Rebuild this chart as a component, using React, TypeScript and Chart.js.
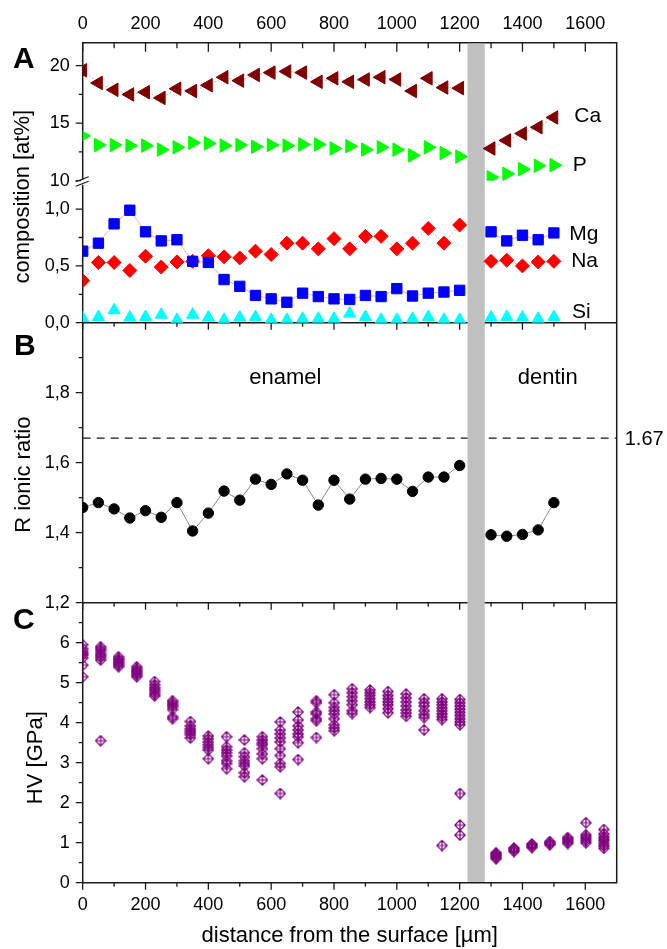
import React, { useEffect, useRef } from 'react';
import { Chart, registerables } from 'chart.js';

Chart.register(...registerables);

// ---------- data ----------
const enamelX = [0, 50, 100, 150, 200, 250, 300, 350, 400, 450, 500, 550, 600, 650, 700, 750, 800, 850, 900, 950, 1000, 1050, 1100, 1150, 1200];
const dentinX = [1300, 1350, 1400, 1450, 1500];

const caEnamel = [19.6, 18.5, 17.9, 17.5, 17.7, 17.2, 18.0, 17.8, 18.3, 19.0, 18.7, 19.2, 19.4, 19.5, 19.4, 18.6, 18.9, 18.6, 18.8, 19.0, 18.8, 17.8, 18.9, 18.1, 18.05];
const caDentin = [12.8, 13.5, 14.1, 14.65, 15.5];
const pEnamel = [13.9, 13.1, 13.1, 13.05, 13.05, 12.7, 12.9, 13.3, 13.25, 13.05, 13.1, 12.95, 13.1, 13.05, 13.15, 13.15, 12.8, 13.0, 12.7, 12.9, 12.7, 12.2, 12.9, 12.4, 12.1];
const pDentin = [10.3, 10.6, 11.0, 11.3, 11.35];
const mgEnamel = [0.63, 0.70, 0.87, 0.99, 0.80, 0.72, 0.73, 0.54, 0.53, 0.38, 0.32, 0.24, 0.21, 0.18, 0.26, 0.23, 0.21, 0.205, 0.24, 0.23, 0.30, 0.235, 0.26, 0.27, 0.285];
const mgDentin = [0.80, 0.72, 0.77, 0.73, 0.79];
const naEnamel = [0.37, 0.53, 0.53, 0.46, 0.585, 0.49, 0.535, 0.54, 0.59, 0.58, 0.57, 0.63, 0.60, 0.70, 0.70, 0.65, 0.74, 0.65, 0.76, 0.76, 0.65, 0.70, 0.83, 0.70, 0.86];
const naDentin = [0.54, 0.55, 0.50, 0.535, 0.54];
const siEnamel = [0.04, 0.05, 0.11, 0.045, 0.05, 0.07, 0.025, 0.07, 0.045, 0.025, 0.045, 0.05, 0.025, 0.025, 0.035, 0.035, 0.035, 0.08, 0.05, 0.025, 0.025, 0.035, 0.05, 0.025, 0.025];
const siDentin = [0.045, 0.05, 0.045, 0.035, 0.05];

const rEnamel = [1.472, 1.486, 1.468, 1.442, 1.463, 1.444, 1.486, 1.405, 1.456, 1.519, 1.493, 1.553, 1.538, 1.568, 1.55, 1.479, 1.55, 1.496, 1.553, 1.555, 1.553, 1.518, 1.559, 1.559, 1.592];
const rDentin = [1.394, 1.39, 1.395, 1.408, 1.486];
const stoichiometricR = 1.67;

const hvX = [0, 57, 114, 172, 229, 286, 343, 400, 458, 515, 572, 629, 686, 744, 801, 858, 915, 972, 1030, 1087, 1144, 1201, 1316, 1373, 1430, 1487, 1544, 1602, 1659];
const hvValues = [
  [5.95, 5.85, 5.78, 5.73, 5.69, 5.62, 5.44, 5.15],
  [5.9, 5.85, 5.8, 5.73, 5.68, 5.63, 5.57, 3.55],
  [5.65, 5.6, 5.57, 5.52, 5.48, 5.44, 5.4],
  [5.4, 5.35, 5.31, 5.27, 5.23, 5.19, 5.15],
  [5.03, 4.95, 4.88, 4.83, 4.78, 4.72, 4.67],
  [4.55, 4.5, 4.45, 4.4, 4.33, 4.15, 4.1],
  [4.03, 3.92, 3.85, 3.8, 3.75, 3.7, 3.62],
  [3.67, 3.6, 3.52, 3.45, 3.38, 3.32, 3.1],
  [3.65, 3.4, 3.32, 3.25, 3.17, 3.05, 2.98, 2.85],
  [3.57, 3.25, 3.15, 3.05, 2.98, 2.92, 2.75, 2.65],
  [3.65, 3.57, 3.5, 3.45, 3.35, 3.22, 3.1, 2.57],
  [4.02, 3.82, 3.72, 3.62, 3.52, 3.35, 3.18, 2.98, 2.9, 2.23],
  [4.27, 4.07, 3.92, 3.82, 3.72, 3.65, 3.5, 3.08],
  [4.55, 4.5, 4.27, 4.22, 4.1, 4.05, 3.63],
  [4.7, 4.5, 4.38, 4.3, 4.22, 4.1, 3.95, 3.87, 3.8],
  [4.85, 4.75, 4.65, 4.55, 4.45, 4.3, 4.23],
  [4.82, 4.75, 4.68, 4.6, 4.52, 4.45, 4.38],
  [4.78, 4.68, 4.6, 4.52, 4.45, 4.35, 4.25],
  [4.72, 4.62, 4.52, 4.42, 4.32, 4.24, 4.16],
  [4.6, 4.5, 4.42, 4.3, 4.2, 4.13, 3.82],
  [4.6, 4.52, 4.45, 4.37, 4.3, 4.22, 4.15, 4.08, 0.93],
  [4.58, 4.5, 4.42, 4.34, 4.26, 4.18, 4.1, 4.02, 3.95, 2.23, 1.44, 1.19],
  [0.75, 0.72, 0.69, 0.66, 0.63, 0.6],
  [0.87, 0.84, 0.81, 0.78],
  [0.97, 0.94, 0.91, 0.88],
  [1.03, 1.0, 0.98, 0.95],
  [1.13, 1.1, 1.06, 1.02, 0.98],
  [1.5, 1.2, 1.15, 1.1, 1.05, 1.0],
  [1.33, 1.22, 1.15, 1.1, 1.05, 0.98, 0.92, 0.86],
];

// boundary (gray band) between enamel and dentin, in µm
const bandStart = 1225;
const bandEnd = 1280;

// ticks
const xMajorTicks = [0, 200, 400, 600, 800, 1000, 1200, 1400, 1600];
const xMinorTicks = [100, 300, 500, 700, 900, 1100, 1300, 1500];
const aHighMajor = [10, 15, 20];
const aHighMinor = [12.5, 17.5];
const aLowMajor = [0, 0.5, 1.0];
const aLowMinor = [0.25, 0.75];
const bMajor = [1.2, 1.4, 1.6, 1.8];
const bMinor = [1.3, 1.5, 1.7, 1.9];
const cMajor = [0, 1, 2, 3, 4, 5, 6];
const cMinor = [0.5, 1.5, 2.5, 3.5, 4.5, 5.5, 6.5];

const FONT = '"Liberation Sans", Arial, Helvetica, sans-serif';

const pts = (xs: number[], ys: number[]) => xs.map((x, i) => ({ x, y: ys[i] }));

function makeHvMarker(): HTMLCanvasElement {
  const c = document.createElement('canvas');
  c.width = 12;
  c.height = 12;
  const g = c.getContext('2d') as CanvasRenderingContext2D;
  g.strokeStyle = '#800080';
  g.lineWidth = 1.2;
  g.beginPath();
  g.moveTo(6, 0.8);
  g.lineTo(11.2, 6);
  g.lineTo(6, 11.2);
  g.lineTo(0.8, 6);
  g.closePath();
  g.moveTo(6, 1.5);
  g.lineTo(6, 10.5);
  g.moveTo(1.5, 6);
  g.lineTo(10.5, 6);
  g.stroke();
  return c;
}

const framePlugin = {
  id: 'framePlugin',
  beforeDatasetsDraw(chart: any) {
    const { ctx, chartArea: ca, scales } = chart;
    const x = scales.x;
    const yAh = scales.yAhigh, yAl = scales.yAlow, yB = scales.yB, yC = scales.yC;
    ctx.save();
    ctx.strokeStyle = '#1a1a1a';
    ctx.lineCap = 'butt';

    // dashed reference line
    ctx.lineWidth = 1.3;
    ctx.setLineDash([8, 6]);
    const yd = yB.getPixelForValue(stoichiometricR);
    ctx.beginPath();
    ctx.moveTo(ca.left, yd);
    ctx.lineTo(ca.right, yd);
    ctx.stroke();
    ctx.setLineDash([]);

    // frame
    ctx.lineWidth = 1.5;
    ctx.beginPath();
    [ca.top, yAl.bottom, yB.bottom, ca.bottom].forEach((y: number) => {
      ctx.moveTo(ca.left - 0.75, y);
      ctx.lineTo(ca.right + 0.75, y);
    });
    ctx.moveTo(ca.left, ca.top);
    ctx.lineTo(ca.left, ca.bottom);
    ctx.moveTo(ca.right, ca.top);
    ctx.lineTo(ca.right, ca.bottom);
    ctx.stroke();

    // x tick marks (pointing down)
    ctx.lineWidth = 1.3;
    ctx.beginPath();
    const rows: [number, number, number][] = [
      [ca.top, 9, 5.5],
      [yAl.bottom, 7, 4],
      [yB.bottom, 7, 4],
      [ca.bottom, 7, 4],
    ];
    rows.forEach(([y, maj, min]) => {
      xMajorTicks.forEach((v) => {
        const px = x.getPixelForValue(v);
        ctx.moveTo(px, y);
        ctx.lineTo(px, y + maj);
      });
      xMinorTicks.forEach((v) => {
        const px = x.getPixelForValue(v);
        ctx.moveTo(px, y);
        ctx.lineTo(px, y + min);
      });
    });
    // y tick marks (pointing left)
    const yRows: [any, number[], number[]][] = [
      [yAh, aHighMajor, aHighMinor],
      [yAl, aLowMajor, aLowMinor],
      [yB, bMajor, bMinor],
      [yC, cMajor, cMinor],
    ];
    yRows.forEach(([s, maj, min]) => {
      maj.forEach((v) => {
        const py = s.getPixelForValue(v);
        ctx.moveTo(ca.left, py);
        ctx.lineTo(ca.left - 7, py);
      });
      min.forEach((v) => {
        const py = s.getPixelForValue(v);
        ctx.moveTo(ca.left, py);
        ctx.lineTo(ca.left - 4, py);
      });
    });
    ctx.stroke();

    // axis break on the composition axis
    const yb = yAh.bottom;
    ctx.fillStyle = '#ffffff';
    ctx.fillRect(ca.left - 1.5, yb - 1, 3, 5);
    ctx.lineWidth = 1.2;
    ctx.beginPath();
    ctx.moveTo(ca.left - 7, yb + 1);
    ctx.lineTo(ca.left + 6, yb - 4);
    ctx.moveTo(ca.left - 7, yb + 5.5);
    ctx.lineTo(ca.left + 6, yb + 0.5);
    ctx.stroke();

    // gray band
    ctx.fillStyle = '#c0c0c0';
    const bx0 = x.getPixelForValue(bandStart);
    const bx1 = x.getPixelForValue(bandEnd);
    ctx.fillRect(bx0, ca.top + 1, bx1 - bx0, ca.bottom - ca.top - 1.8);
    ctx.restore();
  },
  afterDraw(chart: any) {
    const { ctx, chartArea: ca, scales } = chart;
    const x = scales.x;
    const yAh = scales.yAhigh, yAl = scales.yAlow, yB = scales.yB, yC = scales.yC;
    ctx.save();
    ctx.fillStyle = '#000';
    ctx.textAlign = 'left';
    ctx.textBaseline = 'alphabetic';

    ctx.font = `bold 30px ${FONT}`;
    ctx.fillText('A', 13, ca.top + 25.5);
    ctx.fillText('B', 14, yB.top + 32.5);
    ctx.fillText('C', 13, yC.top + 26);

    ctx.font = `21px ${FONT}`;
    const seriesLabels: [string, number, number, any][] = [
      ['Ca', 1565, 15.14, yAh],
      ['P', 1560, 10.88, yAh],
      ['Mg', 1549, 0.73, yAl],
      ['Na', 1555, 0.49, yAl],
      ['Si', 1558, 0.039, yAl],
    ];
    seriesLabels.forEach(([t, xv, yv, s]) => ctx.fillText(t, x.getPixelForValue(xv), s.getPixelForValue(yv)));

    ctx.font = `22px ${FONT}`;
    ctx.fillText('enamel', x.getPixelForValue(530), yB.getPixelForValue(1.825));
    ctx.fillText('dentin', x.getPixelForValue(1385), yB.getPixelForValue(1.825));

    ctx.font = `20px ${FONT}`;
    ctx.textBaseline = 'middle';
    ctx.fillText('1.67', ca.right + 8, yB.getPixelForValue(stoichiometricR) + 1);

    const vt = (text: string, bx: number, cy: number) => {
      ctx.save();
      ctx.translate(bx, cy);
      ctx.rotate(-Math.PI / 2);
      ctx.textAlign = 'center';
      ctx.textBaseline = 'alphabetic';
      ctx.fillText(text, 0, 0);
      ctx.restore();
    };
    ctx.font = `22px ${FONT}`;
    vt('composition [at%]', 29, (yAh.top + yAl.bottom) / 2 + 14);
    vt('R ionic ratio', 30, (yB.top + yB.bottom) / 2 + 12);
    vt('HV [GPa]', 42, (yC.top + yC.bottom) / 2 + 15);
    ctx.restore();
  },
};

export default function App() {
  const canvasRef = useRef<HTMLCanvasElement | null>(null);

  useEffect(() => {
    if (!canvasRef.current) return;
    Chart.defaults.font.family = FONT;
    Chart.defaults.color = '#000';
    const hvMarker = makeHvMarker();

    const hvPoints: { x: number; y: number }[] = [];
    hvX.forEach((xv, i) => hvValues[i].forEach((yv) => hvPoints.push({ x: xv, y: yv })));

    const LEFT = 82.7;
    const yBase = (id: string, weight: number, min: number, max: number, major: number[], fmt: (v: number) => string) => ({
      type: 'linear',
      position: 'left',
      stack: 'panels',
      stackWeight: weight,
      min,
      max,
      grid: { display: false, drawTicks: false },
      border: { display: false },
      ticks: { padding: 13, autoSkip: false, font: { size: 18 }, color: '#000', callback: (v: any) => fmt(Number(v)) },
      afterBuildTicks: (s: any) => {
        s.ticks = major.map((v) => ({ value: v }));
      },
      afterFit: (s: any) => {
        s.width = LEFT;
      },
    });
    const comma1 = (v: number) => v.toFixed(1).replace('.', ',');
    const int0 = (v: number) => String(Math.round(v));

    const line = (data: any[], yAxisID: string, o: any) => ({
      data,
      yAxisID,
      xAxisID: 'x',
      clip: 0,
      pointBorderWidth: 1,
      ...o,
    });

    const ca = { pointStyle: 'triangle', rotation: -90, pointRadius: 7.8, pointBackgroundColor: '#800000', pointBorderColor: '#800000', showLine: true, borderColor: 'rgba(130,130,130,0.7)', borderWidth: 0.8, borderDash: [2, 2] };
    const p = { pointStyle: 'triangle', rotation: 90, pointRadius: 7.8, pointBackgroundColor: '#00ff00', pointBorderColor: '#00ff00', showLine: false };
    const mg = { pointStyle: 'rect', pointRadius: 7.3, pointBackgroundColor: '#0000ff', pointBorderColor: '#0000ff', showLine: true, borderColor: 'rgba(255,120,120,0.8)', borderWidth: 0.8 };
    const na = { pointStyle: 'rectRot', pointRadius: 7, pointBackgroundColor: '#ff0000', pointBorderColor: '#ff0000', showLine: true, borderColor: 'rgba(130,130,130,0.7)', borderWidth: 0.8, borderDash: [2, 2] };
    const si = { pointStyle: 'triangle', pointRadius: 7, pointBackgroundColor: '#00ffff', pointBorderColor: '#00ffff', showLine: false };
    const r = { pointStyle: 'circle', pointRadius: 5.2, pointBackgroundColor: '#000', pointBorderColor: '#000', showLine: true, borderColor: '#8a8a8a', borderWidth: 1 };

    const chart = new Chart(canvasRef.current, {
      type: 'scatter',
      data: {
        datasets: [
          line(pts(enamelX, caEnamel), 'yAhigh', { label: 'Ca', ...ca }),
          line(pts(dentinX, caDentin), 'yAhigh', { label: 'Ca dentin', ...ca }),
          line(pts(enamelX, pEnamel), 'yAhigh', { label: 'P', ...p }),
          line(pts(dentinX, pDentin), 'yAhigh', { label: 'P dentin', ...p }),
          line(pts(enamelX, mgEnamel), 'yAlow', { label: 'Mg', ...mg }),
          line(pts(dentinX, mgDentin), 'yAlow', { label: 'Mg dentin', ...mg }),
          line(pts(enamelX, naEnamel), 'yAlow', { label: 'Na', ...na }),
          line(pts(dentinX, naDentin), 'yAlow', { label: 'Na dentin', ...na }),
          line(pts(enamelX, siEnamel), 'yAlow', { label: 'Si', ...si }),
          line(pts(dentinX, siDentin), 'yAlow', { label: 'Si dentin', ...si }),
          line(pts(enamelX, rEnamel), 'yB', { label: 'R', ...r }),
          line(pts(dentinX, rDentin), 'yB', { label: 'R dentin', ...r }),
          line(hvPoints, 'yC', { label: 'HV', pointStyle: hvMarker, pointRadius: 6, showLine: false }),
        ] as any,
      },
      options: {
        responsive: false,
        animation: false,
        events: [],
        layout: { padding: { left: 0, right: 50.3, top: 0, bottom: 0 } },
        plugins: { legend: { display: false }, title: { display: false }, tooltip: { enabled: false } },
        scales: {
          x: {
            type: 'linear',
            position: 'bottom',
            min: 0,
            max: 1700,
            grid: { display: false, drawTicks: false },
            border: { display: false },
            ticks: { padding: 11.5, autoSkip: false, maxRotation: 0, font: { size: 18 }, color: '#000', callback: (v: any) => String(v) },
            afterBuildTicks: (s: any) => {
              s.ticks = xMajorTicks.map((v) => ({ value: v }));
            },
            title: { display: true, text: 'distance from the surface [µm]', font: { size: 22 }, color: '#000', padding: { top: 0, bottom: 0 } },
            afterFit: (s: any) => {
              s.height = 66.3;
            },
          },
          xTop: {
            type: 'linear',
            position: 'top',
            min: 0,
            max: 1700,
            grid: { display: false, drawTicks: false },
            border: { display: false },
            ticks: { padding: 7.4, autoSkip: false, maxRotation: 0, font: { size: 18 }, color: '#000', callback: (v: any) => String(v) },
            afterBuildTicks: (s: any) => {
              s.ticks = xMajorTicks.map((v) => ({ value: v }));
            },
            afterFit: (s: any) => {
              s.height = 42.7;
            },
          },
          yC: yBase('yC', 280, 0, 7, cMajor, int0),
          yB: yBase('yB', 280, 1.2, 2.0, bMajor, comma1),
          yAlow: yBase('yAlow', 142, 0, 1.25, aLowMajor, comma1),
          yAhigh: yBase('yAhigh', 138, 10, 22, aHighMajor, int0),
        } as any,
      },
      plugins: [framePlugin],
    } as any);

    return () => chart.destroy();
  }, []);

  return (
    <div style={{ position: 'absolute', left: 0, top: 0, width: 667, height: 949, background: '#ffffff' }}>
      <canvas ref={canvasRef} width={667} height={949} style={{ display: 'block' }} />
    </div>
  );
}
